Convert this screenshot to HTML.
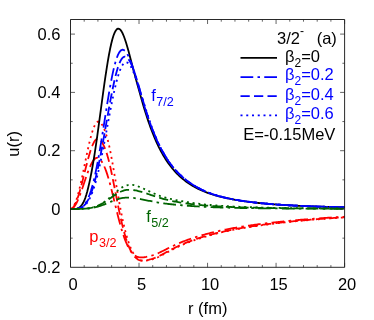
<!DOCTYPE html>
<html><head><meta charset="utf-8"><title>u(r)</title>
<style>html,body{margin:0;padding:0;background:#fff;}body{width:374px;height:320px;overflow:hidden;position:relative;font-family:"Liberation Sans",sans-serif;}</style></head>
<body>
<svg width="374" height="320" viewBox="0 0 374 320" style="position:absolute;left:0;top:0;will-change:transform">
<rect width="374" height="320" fill="#fff"/>
<clipPath id="c"><rect x="70.5" y="19.5" width="274.1" height="247.8"/></clipPath>
<g clip-path="url(#c)" fill="none" stroke-width="1.8" stroke-linejoin="round">
<path d="M70.50,209.00 L71.68,208.76 L72.85,208.05 L74.03,206.88 L75.20,205.26 L76.38,203.24 L77.56,200.84 L78.73,198.12 L79.91,195.11 L81.08,191.88 L82.26,188.49 L83.44,184.99 L84.61,181.46 L85.79,177.96 L86.96,174.55 L88.14,171.31 L89.31,168.29 L90.49,165.55 L91.67,163.16 L92.84,161.16 L94.02,159.59 L95.19,158.49 L96.37,157.88 L97.55,157.80 L98.73,158.25 L99.96,159.23 L101.21,160.74 L102.49,162.76 L103.77,165.27 L105.06,168.24 L106.33,171.63 L107.58,175.39 L108.81,179.47 L109.99,183.82 L111.17,188.37 L112.34,193.08 L113.52,197.87 L114.69,202.69 L115.87,207.47 L117.05,212.27 L118.22,216.99 L119.40,221.52 L120.57,225.83 L121.75,229.89 L122.93,233.67 L124.10,237.16 L125.28,240.34 L126.45,243.21 L127.63,245.77 L128.81,248.03 L129.98,249.99 L131.16,251.68 L132.33,253.11 L133.51,254.29 L134.68,255.24 L135.80,256.00 L136.86,256.56 L137.88,256.96 L138.87,257.22 L139.85,257.35 L140.84,257.41 L141.84,257.40 L142.87,257.34 L143.94,257.24 L145.08,257.08 L146.26,256.89 L147.45,256.66 L148.65,256.39 L149.87,256.09 L151.09,255.75 L152.31,255.39 L153.54,254.99 L154.78,254.55 L156.01,254.09 L157.24,253.59 L158.48,253.05 L159.71,252.48 L160.93,251.89 L162.15,251.29 L163.36,250.70 L164.56,250.10 L165.75,249.51 L166.93,248.91 L168.10,248.32 L169.28,247.74 L170.45,247.16 L171.63,246.59 L172.81,246.03 L173.98,245.48 L175.16,244.93 L176.33,244.40 L177.51,243.87 L178.69,243.36 L179.86,242.86 L181.04,242.37 L182.21,241.89 L183.39,241.43 L184.57,240.97 L185.74,240.53 L186.92,240.10 L188.09,239.68 L189.27,239.26 L190.45,238.85 L191.62,238.45 L192.80,238.06 L193.97,237.68 L195.15,237.30 L196.33,236.92 L197.50,236.56 L198.68,236.20 L199.85,235.85 L201.03,235.50 L202.20,235.16 L203.38,234.83 L204.56,234.50 L205.73,234.18 L206.91,233.87 L208.08,233.56 L209.26,233.25 L210.44,232.95 L211.61,232.66 L212.79,232.37 L213.96,232.09 L215.14,231.81 L216.32,231.54 L217.49,231.27 L218.67,231.01 L219.84,230.75 L221.02,230.50 L222.20,230.25 L223.37,230.00 L224.55,229.76 L225.72,229.53 L226.90,229.30 L228.08,229.07 L229.25,228.85 L230.43,228.63 L231.60,228.41 L232.78,228.20 L233.96,227.99 L235.13,227.79 L236.31,227.59 L237.48,227.39 L238.66,227.20 L239.83,227.00 L241.01,226.81 L242.19,226.63 L243.36,226.44 L244.54,226.26 L245.71,226.08 L246.89,225.91 L248.07,225.73 L249.24,225.56 L250.42,225.39 L251.59,225.22 L252.77,225.06 L253.95,224.89 L255.12,224.73 L256.30,224.57 L257.47,224.41 L258.65,224.26 L259.83,224.11 L261.00,223.96 L262.18,223.81 L263.35,223.66 L264.53,223.51 L265.71,223.37 L266.88,223.23 L268.06,223.09 L269.23,222.95 L270.41,222.81 L271.59,222.68 L272.76,222.54 L273.94,222.41 L275.11,222.28 L276.29,222.15 L277.46,222.03 L278.64,221.90 L279.82,221.78 L280.99,221.65 L282.17,221.53 L283.34,221.41 L284.52,221.30 L285.70,221.18 L286.87,221.06 L288.05,220.95 L289.22,220.84 L290.40,220.72 L291.58,220.61 L292.75,220.50 L293.93,220.40 L295.10,220.29 L296.28,220.18 L297.46,220.08 L298.63,219.98 L299.81,219.87 L300.98,219.77 L302.16,219.67 L303.34,219.58 L304.51,219.48 L305.69,219.38 L306.86,219.29 L308.04,219.19 L309.22,219.10 L310.39,219.01 L311.57,218.91 L312.74,218.82 L313.92,218.73 L315.09,218.65 L316.27,218.56 L317.45,218.47 L318.62,218.39 L319.80,218.30 L320.97,218.22 L322.15,218.13 L323.33,218.05 L324.50,217.97 L325.68,217.89 L326.85,217.81 L328.03,217.73 L329.21,217.65 L330.38,217.58 L331.56,217.50 L332.73,217.43 L333.91,217.35 L335.09,217.28 L336.26,217.20 L337.44,217.13 L338.61,217.06 L339.79,216.99 L340.97,216.92 L342.14,216.85 L343.32,216.78 L344.49,216.71 L345.67,216.64 L346.84,216.58" stroke="#ff0000" stroke-dasharray="12.75 4.25 2.5 4.25"/>
<path d="M70.50,209.00 L71.68,208.69 L72.85,207.75 L74.03,206.21 L75.20,204.09 L76.38,201.43 L77.56,198.27 L78.73,194.68 L79.91,190.70 L81.08,186.42 L82.26,181.91 L83.44,177.25 L84.61,172.52 L85.79,167.80 L86.96,163.19 L88.14,158.77 L89.31,154.61 L90.49,150.80 L91.67,147.40 L92.84,144.49 L94.02,142.12 L95.19,140.35 L96.37,139.20 L97.55,138.71 L98.74,138.90 L100.02,139.77 L101.35,141.33 L102.72,143.54 L104.12,146.40 L105.51,149.86 L106.88,153.87 L108.21,158.38 L109.48,163.33 L110.68,168.65 L111.85,174.26 L113.03,180.08 L114.20,186.05 L115.38,192.08 L116.56,198.10 L117.73,204.04 L118.91,209.82 L120.08,215.35 L121.26,220.63 L122.44,225.62 L123.61,230.28 L124.79,234.59 L125.96,238.54 L127.14,242.11 L128.32,245.31 L129.49,248.14 L130.67,250.62 L131.84,252.76 L133.02,254.58 L134.20,256.11 L135.36,257.36 L136.45,258.36 L137.45,259.13 L138.39,259.71 L139.30,260.10 L140.18,260.35 L141.07,260.50 L141.98,260.58 L142.94,260.58 L143.96,260.52 L145.08,260.41 L146.26,260.25 L147.45,260.04 L148.65,259.79 L149.87,259.49 L151.09,259.16 L152.31,258.79 L153.54,258.38 L154.78,257.93 L156.01,257.44 L157.24,256.91 L158.48,256.34 L159.71,255.73 L160.93,255.10 L162.15,254.46 L163.36,253.82 L164.56,253.18 L165.75,252.54 L166.93,251.90 L168.10,251.26 L169.28,250.63 L170.45,250.01 L171.63,249.39 L172.81,248.78 L173.98,248.18 L175.16,247.60 L176.33,247.02 L177.51,246.45 L178.69,245.90 L179.86,245.36 L181.04,244.83 L182.21,244.31 L183.39,243.81 L184.57,243.32 L185.74,242.85 L186.92,242.38 L188.09,241.93 L189.27,241.48 L190.45,241.04 L191.62,240.61 L192.80,240.19 L193.97,239.77 L195.15,239.36 L196.33,238.96 L197.50,238.57 L198.68,238.18 L199.85,237.80 L201.03,237.43 L202.20,237.07 L203.38,236.71 L204.56,236.35 L205.73,236.01 L206.91,235.67 L208.08,235.34 L209.26,235.01 L210.44,234.69 L211.61,234.37 L212.79,234.06 L213.96,233.76 L215.14,233.46 L216.32,233.17 L217.49,232.88 L218.67,232.60 L219.84,232.32 L221.02,232.05 L222.20,231.78 L223.37,231.52 L224.55,231.26 L225.72,231.00 L226.90,230.76 L228.08,230.51 L229.25,230.27 L230.43,230.04 L231.60,229.81 L232.78,229.58 L233.96,229.36 L235.13,229.14 L236.31,228.92 L237.48,228.71 L238.66,228.50 L239.83,228.30 L241.01,228.09 L242.19,227.89 L243.36,227.70 L244.54,227.50 L245.71,227.31 L246.89,227.12 L248.07,226.93 L249.24,226.75 L250.42,226.57 L251.59,226.39 L252.77,226.21 L253.95,226.03 L255.12,225.86 L256.30,225.69 L257.47,225.52 L258.65,225.36 L259.83,225.19 L261.00,225.03 L262.18,224.87 L263.35,224.71 L264.53,224.56 L265.71,224.40 L266.88,224.25 L268.06,224.10 L269.23,223.95 L270.41,223.81 L271.59,223.66 L272.76,223.52 L273.94,223.38 L275.11,223.24 L276.29,223.10 L277.46,222.96 L278.64,222.83 L279.82,222.70 L280.99,222.56 L282.17,222.43 L283.34,222.31 L284.52,222.18 L285.70,222.05 L286.87,221.93 L288.05,221.81 L289.22,221.69 L290.40,221.57 L291.58,221.45 L292.75,221.33 L293.93,221.21 L295.10,221.10 L296.28,220.99 L297.46,220.88 L298.63,220.77 L299.81,220.66 L300.98,220.55 L302.16,220.44 L303.34,220.33 L304.51,220.23 L305.69,220.13 L306.86,220.02 L308.04,219.92 L309.22,219.82 L310.39,219.72 L311.57,219.63 L312.74,219.53 L313.92,219.43 L315.09,219.34 L316.27,219.24 L317.45,219.15 L318.62,219.06 L319.80,218.97 L320.97,218.88 L322.15,218.79 L323.33,218.70 L324.50,218.62 L325.68,218.53 L326.85,218.44 L328.03,218.36 L329.21,218.28 L330.38,218.19 L331.56,218.11 L332.73,218.03 L333.91,217.95 L335.09,217.87 L336.26,217.79 L337.44,217.71 L338.61,217.64 L339.79,217.56 L340.97,217.49 L342.14,217.41 L343.32,217.34 L344.49,217.26 L345.67,217.19 L346.84,217.12" stroke="#ff0000" stroke-dasharray="9.25 4.25"/>
<path d="M70.50,209.00 L71.68,208.63 L72.85,207.51 L74.03,205.66 L75.20,203.12 L76.38,199.93 L77.56,196.14 L78.73,191.82 L79.91,187.03 L81.08,181.87 L82.26,176.41 L83.44,170.75 L84.61,165.00 L85.79,159.24 L86.96,153.58 L88.14,148.12 L89.31,142.94 L90.49,138.16 L91.67,133.84 L92.84,130.07 L94.02,126.93 L95.19,124.46 L96.37,122.72 L97.55,121.75 L98.74,121.56 L100.02,122.18 L101.35,123.60 L102.72,125.81 L104.12,128.78 L105.51,132.46 L106.88,136.81 L108.21,141.77 L109.48,147.26 L110.68,153.21 L111.85,159.53 L113.03,166.14 L114.20,172.94 L115.38,179.85 L116.56,186.77 L117.73,193.63 L118.91,200.35 L120.08,206.86 L121.26,212.99 L122.44,218.72 L123.61,224.11 L124.79,229.12 L125.96,233.72 L127.14,237.91 L128.32,241.67 L129.49,245.01 L130.67,247.96 L131.84,250.52 L133.02,252.71 L134.20,254.56 L135.36,256.10 L136.45,257.36 L137.45,258.35 L138.39,259.12 L139.30,259.67 L140.18,260.06 L141.07,260.34 L141.98,260.52 L142.94,260.62 L143.96,260.65 L145.08,260.62 L146.26,260.53 L147.45,260.38 L148.65,260.19 L149.87,259.94 L151.09,259.66 L152.31,259.32 L153.54,258.94 L154.78,258.52 L156.01,258.05 L157.24,257.53 L158.48,256.97 L159.71,256.35 L160.93,255.72 L162.15,255.08 L163.36,254.44 L164.56,253.80 L165.75,253.16 L166.93,252.52 L168.10,251.89 L169.28,251.26 L170.45,250.64 L171.63,250.02 L172.81,249.42 L173.98,248.82 L175.16,248.24 L176.33,247.66 L177.51,247.10 L178.69,246.54 L179.86,246.00 L181.04,245.47 L182.21,244.95 L183.39,244.45 L184.57,243.96 L185.74,243.48 L186.92,243.00 L188.09,242.54 L189.27,242.09 L190.45,241.64 L191.62,241.20 L192.80,240.77 L193.97,240.35 L195.15,239.94 L196.33,239.53 L197.50,239.13 L198.68,238.74 L199.85,238.35 L201.03,237.97 L202.20,237.60 L203.38,237.23 L204.56,236.87 L205.73,236.52 L206.91,236.17 L208.08,235.83 L209.26,235.50 L210.44,235.17 L211.61,234.85 L212.79,234.53 L213.96,234.22 L215.14,233.92 L216.32,233.62 L217.49,233.32 L218.67,233.04 L219.84,232.75 L221.02,232.47 L222.20,232.20 L223.37,231.93 L224.55,231.67 L225.72,231.41 L226.90,231.16 L228.08,230.91 L229.25,230.66 L230.43,230.42 L231.60,230.19 L232.78,229.96 L233.96,229.73 L235.13,229.51 L236.31,229.29 L237.48,229.08 L238.66,228.86 L239.83,228.65 L241.01,228.45 L242.19,228.24 L243.36,228.04 L244.54,227.84 L245.71,227.65 L246.89,227.45 L248.07,227.26 L249.24,227.07 L250.42,226.89 L251.59,226.71 L252.77,226.53 L253.95,226.35 L255.12,226.17 L256.30,226.00 L257.47,225.83 L258.65,225.66 L259.83,225.49 L261.00,225.33 L262.18,225.16 L263.35,225.00 L264.53,224.84 L265.71,224.69 L266.88,224.53 L268.06,224.38 L269.23,224.23 L270.41,224.08 L271.59,223.93 L272.76,223.78 L273.94,223.64 L275.11,223.50 L276.29,223.36 L277.46,223.22 L278.64,223.08 L279.82,222.95 L280.99,222.81 L282.17,222.68 L283.34,222.55 L284.52,222.42 L285.70,222.29 L286.87,222.17 L288.05,222.04 L289.22,221.92 L290.40,221.80 L291.58,221.68 L292.75,221.56 L293.93,221.44 L295.10,221.32 L296.28,221.21 L297.46,221.09 L298.63,220.98 L299.81,220.87 L300.98,220.76 L302.16,220.65 L303.34,220.54 L304.51,220.44 L305.69,220.33 L306.86,220.23 L308.04,220.12 L309.22,220.02 L310.39,219.92 L311.57,219.82 L312.74,219.72 L313.92,219.63 L315.09,219.53 L316.27,219.43 L317.45,219.34 L318.62,219.25 L319.80,219.15 L320.97,219.06 L322.15,218.97 L323.33,218.88 L324.50,218.79 L325.68,218.70 L326.85,218.62 L328.03,218.53 L329.21,218.45 L330.38,218.36 L331.56,218.28 L332.73,218.20 L333.91,218.11 L335.09,218.03 L336.26,217.95 L337.44,217.87 L338.61,217.80 L339.79,217.72 L340.97,217.64 L342.14,217.57 L343.32,217.49 L344.49,217.42 L345.67,217.34 L346.84,217.27" stroke="#ff0000" stroke-dasharray="2 3.75"/>
<path d="M70.50,209.00 L71.57,209.00 L72.64,208.99 L73.70,208.97 L74.76,208.91 L75.82,208.79 L76.88,208.57 L77.94,208.22 L78.99,207.69 L80.05,206.94 L81.10,205.91 L82.15,204.56 L83.19,202.84 L84.22,200.71 L85.23,198.12 L86.24,195.04 L87.26,191.44 L88.30,187.29 L89.38,182.59 L90.50,177.32 L91.63,171.51 L92.77,165.17 L93.91,158.33 L95.05,151.02 L96.20,143.32 L97.35,135.27 L98.51,126.95 L99.66,118.45 L100.82,109.85 L101.98,101.25 L103.14,92.74 L104.29,84.42 L105.45,76.40 L106.61,68.77 L107.76,61.61 L108.92,55.02 L110.07,49.06 L111.22,43.80 L112.37,39.28 L113.51,35.54 L114.66,32.61 L115.81,30.49 L116.95,29.17 L118.10,28.64 L119.25,28.86 L120.40,29.78 L121.55,31.37 L122.70,33.54 L123.85,36.26 L125.01,39.44 L126.17,43.01 L127.34,46.93 L128.50,51.11 L129.67,55.51 L130.85,60.05 L132.06,64.70 L133.30,69.41 L134.56,74.14 L135.84,78.85 L137.12,83.51 L138.39,88.10 L139.66,92.60 L140.90,97.00 L142.12,101.27 L143.32,105.41 L144.52,109.42 L145.71,113.29 L146.91,117.02 L148.10,120.60 L149.29,124.04 L150.48,127.34 L151.66,130.50 L152.84,133.53 L154.01,136.43 L155.18,139.20 L156.35,141.85 L157.52,144.38 L158.68,146.80 L159.84,149.12 L161.00,151.33 L162.16,153.44 L163.32,155.45 L164.47,157.38 L165.62,159.22 L166.77,160.98 L167.93,162.66 L169.08,164.27 L170.23,165.81 L171.37,167.28 L172.52,168.69 L173.67,170.04 L174.82,171.34 L175.97,172.57 L177.13,173.76 L178.28,174.90 L179.43,175.99 L180.57,177.03 L181.71,178.04 L182.86,179.00 L184.00,179.92 L185.13,180.81 L186.27,181.67 L187.41,182.49 L188.54,183.28 L189.68,184.04 L190.82,184.77 L191.96,185.47 L193.10,186.15 L194.24,186.80 L195.38,187.43 L196.53,188.03 L197.68,188.61 L198.83,189.18 L199.99,189.72 L201.15,190.24 L202.31,190.75 L203.48,191.24 L204.66,191.71 L205.83,192.16 L207.01,192.60 L208.19,193.03 L209.36,193.44 L210.54,193.84 L211.71,194.22 L212.89,194.59 L214.07,194.95 L215.24,195.30 L216.42,195.64 L217.59,195.97 L218.77,196.28 L219.95,196.59 L221.12,196.89 L222.30,197.18 L223.47,197.46 L224.65,197.73 L225.83,197.99 L227.00,198.25 L228.18,198.49 L229.35,198.73 L230.53,198.97 L231.70,199.19 L232.88,199.41 L234.06,199.63 L235.23,199.84 L236.41,200.04 L237.58,200.23 L238.76,200.43 L239.94,200.61 L241.11,200.79 L242.29,200.97 L243.46,201.14 L244.64,201.31 L245.82,201.47 L246.99,201.62 L248.17,201.78 L249.34,201.93 L250.52,202.07 L251.70,202.21 L252.87,202.35 L254.05,202.49 L255.22,202.62 L256.40,202.75 L257.58,202.87 L258.75,202.99 L259.93,203.11 L261.10,203.23 L262.28,203.34 L263.46,203.45 L264.63,203.56 L265.81,203.66 L266.98,203.76 L268.16,203.86 L269.33,203.96 L270.51,204.06 L271.69,204.15 L272.86,204.24 L274.04,204.33 L275.21,204.41 L276.39,204.50 L277.57,204.58 L278.74,204.66 L279.92,204.74 L281.09,204.82 L282.27,204.89 L283.45,204.97 L284.62,205.04 L285.80,205.11 L286.97,205.18 L288.15,205.24 L289.33,205.31 L290.50,205.37 L291.68,205.44 L292.85,205.50 L294.03,205.56 L295.21,205.62 L296.38,205.68 L297.56,205.73 L298.73,205.79 L299.91,205.84 L301.09,205.90 L302.26,205.95 L303.44,206.00 L304.61,206.05 L305.79,206.10 L306.96,206.15 L308.14,206.19 L309.32,206.24 L310.49,206.28 L311.67,206.33 L312.84,206.37 L314.02,206.41 L315.20,206.45 L316.37,206.50 L317.55,206.54 L318.72,206.57 L319.90,206.61 L321.08,206.65 L322.25,206.69 L323.43,206.72 L324.60,206.76 L325.78,206.79 L326.96,206.83 L328.13,206.86 L329.31,206.89 L330.48,206.93 L331.66,206.96 L332.84,206.99 L334.01,207.02 L335.19,207.05 L336.36,207.08 L337.54,207.11 L338.71,207.14 L339.89,207.16 L341.07,207.19 L342.24,207.22 L343.42,207.25 L344.59,207.27 L345.77,207.30 L346.95,207.32" stroke="#000"/>
<path d="M70.50,209.00 L71.70,209.00 L72.90,209.00 L74.10,208.98 L75.30,208.93 L76.50,208.83 L77.71,208.65 L78.91,208.36 L80.10,207.93 L81.30,207.31 L82.50,206.46 L83.70,205.35 L84.90,203.94 L86.09,202.18 L87.29,200.04 L88.48,197.49 L89.67,194.50 L90.86,191.05 L92.05,187.13 L93.23,182.74 L94.42,177.87 L95.60,172.53 L96.78,166.76 L97.96,160.58 L99.13,154.04 L100.31,147.17 L101.49,140.04 L102.66,132.72 L103.84,125.27 L105.01,117.77 L106.19,110.31 L107.37,102.97 L108.54,95.82 L109.72,88.96 L110.89,82.47 L112.07,76.41 L113.24,70.87 L114.42,65.91 L115.60,61.57 L116.77,57.90 L117.95,54.90 L119.12,52.60 L120.30,50.98 L121.48,50.03 L122.65,49.73 L123.83,50.03 L125.00,50.88 L126.18,52.23 L127.36,54.05 L128.53,56.29 L129.71,58.92 L130.88,61.88 L132.06,65.13 L133.24,68.62 L134.41,72.32 L135.59,76.18 L136.76,80.16 L137.94,84.24 L139.12,88.37 L140.29,92.53 L141.48,96.65 L142.68,100.70 L143.89,104.67 L145.10,108.55 L146.32,112.33 L147.54,115.99 L148.77,119.54 L150.00,122.96 L151.23,126.26 L152.46,129.43 L153.69,132.49 L154.92,135.42 L156.14,138.22 L157.36,140.92 L158.57,143.49 L159.78,145.96 L160.97,148.32 L162.17,150.58 L163.36,152.74 L164.55,154.80 L165.75,156.77 L166.94,158.66 L168.13,160.46 L169.33,162.19 L170.52,163.84 L171.71,165.42 L172.90,166.92 L174.09,168.37 L175.28,169.75 L176.47,171.07 L177.65,172.34 L178.84,173.56 L180.02,174.72 L181.21,175.83 L182.39,176.90 L183.57,177.93 L184.75,178.91 L185.93,179.85 L187.11,180.76 L188.29,181.63 L189.46,182.47 L190.63,183.27 L191.78,184.04 L192.94,184.78 L194.08,185.50 L195.23,186.18 L196.36,186.85 L197.50,187.48 L198.63,188.10 L199.75,188.69 L200.88,189.26 L202.00,189.81 L203.12,190.34 L204.24,190.85 L205.36,191.34 L206.48,191.82 L207.60,192.27 L208.72,192.72 L209.84,193.15 L210.97,193.56 L212.10,193.96 L213.23,194.35 L214.37,194.72 L215.51,195.09 L216.65,195.44 L217.80,195.77 L218.96,196.10 L220.12,196.42 L221.29,196.73 L222.47,197.03 L223.65,197.32 L224.83,197.60 L226.01,197.87 L227.19,198.13 L228.38,198.39 L229.57,198.63 L230.75,198.87 L231.94,199.11 L233.13,199.33 L234.32,199.55 L235.51,199.77 L236.71,199.97 L237.90,200.18 L239.09,200.37 L240.28,200.56 L241.48,200.75 L242.67,200.93 L243.87,201.10 L245.06,201.27 L246.25,201.44 L247.44,201.60 L248.64,201.75 L249.83,201.91 L251.02,202.06 L252.21,202.20 L253.40,202.34 L254.59,202.48 L255.77,202.61 L256.96,202.74 L258.14,202.87 L259.33,202.99 L260.51,203.11 L261.69,203.23 L262.86,203.34 L264.04,203.46 L265.21,203.56 L266.39,203.67 L267.57,203.77 L268.74,203.87 L269.92,203.97 L271.09,204.07 L272.27,204.16 L273.45,204.25 L274.62,204.34 L275.80,204.43 L276.97,204.52 L278.15,204.60 L279.33,204.68 L280.50,204.76 L281.68,204.84 L282.85,204.91 L284.03,204.99 L285.21,205.06 L286.38,205.13 L287.56,205.20 L288.73,205.27 L289.91,205.34 L291.09,205.40 L292.26,205.46 L293.44,205.53 L294.61,205.59 L295.79,205.65 L296.96,205.70 L298.14,205.76 L299.32,205.82 L300.49,205.87 L301.67,205.92 L302.84,205.98 L304.02,206.03 L305.20,206.08 L306.37,206.13 L307.55,206.17 L308.72,206.22 L309.90,206.27 L311.08,206.31 L312.25,206.36 L313.43,206.40 L314.60,206.44 L315.78,206.48 L316.96,206.52 L318.13,206.56 L319.31,206.60 L320.48,206.64 L321.66,206.68 L322.84,206.72 L324.01,206.75 L325.19,206.79 L326.36,206.82 L327.54,206.86 L328.72,206.89 L329.89,206.92 L331.07,206.96 L332.24,206.99 L333.42,207.02 L334.59,207.05 L335.77,207.08 L336.95,207.11 L338.12,207.14 L339.30,207.16 L340.47,207.19 L341.65,207.22 L342.83,207.25 L344.00,207.27 L345.18,207.30 L346.35,207.32" stroke="#0000ff" stroke-dasharray="12.75 4.25 2.5 4.25"/>
<path d="M70.50,209.00 L71.69,209.00 L72.89,209.00 L74.09,208.98 L75.28,208.94 L76.48,208.86 L77.68,208.71 L78.88,208.46 L80.09,208.09 L81.29,207.57 L82.49,206.85 L83.70,205.90 L84.91,204.69 L86.11,203.18 L87.32,201.34 L88.53,199.14 L89.74,196.55 L90.95,193.55 L92.16,190.13 L93.37,186.28 L94.58,181.99 L95.79,177.28 L97.01,172.15 L98.22,166.63 L99.44,160.75 L100.66,154.53 L101.88,148.04 L103.11,141.33 L104.34,134.44 L105.57,127.45 L106.81,120.43 L108.04,113.45 L109.27,106.59 L110.50,99.92 L111.73,93.52 L112.95,87.45 L114.16,81.80 L115.37,76.62 L116.57,71.96 L117.78,67.87 L118.98,64.39 L120.18,61.55 L121.38,59.36 L122.58,57.81 L123.78,56.92 L124.98,56.64 L126.17,56.97 L127.37,57.86 L128.56,59.27 L129.75,61.15 L130.93,63.45 L132.11,66.12 L133.29,69.11 L134.47,72.35 L135.63,75.81 L136.78,79.44 L137.92,83.18 L139.06,87.01 L140.19,90.88 L141.31,94.76 L142.43,98.63 L143.55,102.47 L144.66,106.25 L145.78,109.95 L146.90,113.57 L148.03,117.10 L149.16,120.53 L150.30,123.84 L151.45,127.05 L152.60,130.14 L153.77,133.12 L154.96,135.98 L156.16,138.74 L157.36,141.38 L158.57,143.91 L159.78,146.34 L160.97,148.67 L162.16,150.89 L163.36,153.02 L164.55,155.06 L165.74,157.02 L166.94,158.88 L168.13,160.67 L169.32,162.38 L170.51,164.02 L171.70,165.58 L172.89,167.08 L174.08,168.52 L175.27,169.89 L176.46,171.20 L177.65,172.46 L178.84,173.67 L180.02,174.83 L181.21,175.94 L182.39,177.00 L183.57,178.02 L184.75,179.00 L185.93,179.94 L187.11,180.84 L188.29,181.71 L189.46,182.54 L190.63,183.34 L191.78,184.11 L192.94,184.85 L194.08,185.56 L195.23,186.25 L196.36,186.91 L197.50,187.54 L198.63,188.15 L199.75,188.74 L200.88,189.31 L202.00,189.86 L203.12,190.39 L204.24,190.90 L205.36,191.39 L206.48,191.86 L207.60,192.32 L208.72,192.76 L209.84,193.19 L210.97,193.60 L212.10,194.00 L213.23,194.39 L214.37,194.76 L215.51,195.12 L216.65,195.47 L217.80,195.81 L218.96,196.14 L220.12,196.45 L221.29,196.76 L222.47,197.06 L223.65,197.35 L224.83,197.63 L226.01,197.90 L227.19,198.16 L228.38,198.41 L229.57,198.66 L230.75,198.90 L231.94,199.13 L233.13,199.36 L234.32,199.58 L235.51,199.79 L236.71,200.00 L237.90,200.20 L239.09,200.39 L240.28,200.58 L241.48,200.77 L242.67,200.95 L243.87,201.12 L245.06,201.29 L246.25,201.46 L247.44,201.62 L248.64,201.77 L249.83,201.93 L251.02,202.07 L252.21,202.22 L253.40,202.36 L254.59,202.50 L255.77,202.63 L256.96,202.76 L258.14,202.88 L259.33,203.01 L260.51,203.13 L261.69,203.24 L262.86,203.36 L264.04,203.47 L265.21,203.58 L266.39,203.68 L267.57,203.79 L268.74,203.89 L269.92,203.99 L271.09,204.08 L272.27,204.18 L273.45,204.27 L274.62,204.36 L275.80,204.44 L276.97,204.53 L278.15,204.61 L279.33,204.69 L280.50,204.77 L281.68,204.85 L282.85,204.93 L284.03,205.00 L285.21,205.07 L286.38,205.14 L287.56,205.21 L288.73,205.28 L289.91,205.35 L291.09,205.41 L292.26,205.47 L293.44,205.53 L294.61,205.60 L295.79,205.65 L296.96,205.71 L298.14,205.77 L299.32,205.82 L300.49,205.88 L301.67,205.93 L302.84,205.98 L304.02,206.04 L305.20,206.08 L306.37,206.13 L307.55,206.18 L308.72,206.23 L309.90,206.27 L311.08,206.32 L312.25,206.36 L313.43,206.41 L314.60,206.45 L315.78,206.49 L316.96,206.53 L318.13,206.57 L319.31,206.61 L320.48,206.65 L321.66,206.69 L322.84,206.72 L324.01,206.76 L325.19,206.79 L326.36,206.83 L327.54,206.86 L328.72,206.90 L329.89,206.93 L331.07,206.96 L332.24,206.99 L333.42,207.02 L334.59,207.05 L335.77,207.08 L336.95,207.11 L338.12,207.14 L339.30,207.17 L340.47,207.20 L341.65,207.22 L342.83,207.25 L344.00,207.28 L345.18,207.30 L346.35,207.33" stroke="#0000ff" stroke-dasharray="9.25 4.25"/>
<path d="M70.50,209.00 L71.70,209.00 L72.90,209.00 L74.11,208.98 L75.31,208.95 L76.51,208.88 L77.71,208.75 L78.92,208.55 L80.12,208.24 L81.33,207.79 L82.53,207.18 L83.74,206.38 L84.94,205.35 L86.15,204.06 L87.35,202.48 L88.56,200.59 L89.77,198.36 L90.97,195.77 L92.18,192.80 L93.39,189.44 L94.60,185.69 L95.81,181.55 L97.01,177.01 L98.22,172.10 L99.43,166.84 L100.64,161.26 L101.85,155.38 L103.06,149.26 L104.27,142.93 L105.48,136.46 L106.70,129.91 L107.91,123.32 L109.12,116.78 L110.33,110.36 L111.55,104.11 L112.76,98.12 L113.97,92.42 L115.19,87.05 L116.40,82.08 L117.62,77.57 L118.83,73.58 L120.05,70.13 L121.27,67.28 L122.49,65.05 L123.71,63.46 L124.93,62.51 L126.15,62.20 L127.36,62.52 L128.57,63.43 L129.77,64.88 L130.96,66.82 L132.16,69.17 L133.36,71.88 L134.55,74.89 L135.74,78.13 L136.94,81.55 L138.12,85.09 L139.31,88.71 L140.49,92.36 L141.66,96.01 L142.82,99.68 L143.97,103.33 L145.11,106.95 L146.24,110.52 L147.37,114.02 L148.49,117.45 L149.61,120.78 L150.73,124.02 L151.84,127.16 L152.96,130.20 L154.09,133.13 L155.21,135.96 L156.35,138.68 L157.49,141.29 L158.63,143.81 L159.80,146.22 L160.97,148.53 L162.15,150.74 L163.33,152.87 L164.51,154.90 L165.70,156.85 L166.88,158.71 L168.07,160.50 L169.26,162.21 L170.45,163.84 L171.65,165.41 L172.84,166.91 L174.03,168.34 L175.23,169.72 L176.42,171.04 L177.61,172.30 L178.80,173.51 L180.00,174.67 L181.19,175.78 L182.38,176.85 L183.56,177.87 L184.75,178.86 L185.93,179.80 L187.11,180.71 L188.29,181.58 L189.46,182.41 L190.63,183.22 L191.78,183.99 L192.94,184.73 L194.08,185.45 L195.23,186.13 L196.36,186.80 L197.50,187.43 L198.63,188.05 L199.75,188.64 L200.88,189.21 L202.00,189.76 L203.12,190.29 L204.24,190.80 L205.36,191.30 L206.48,191.77 L207.60,192.24 L208.72,192.68 L209.84,193.11 L210.97,193.52 L212.10,193.93 L213.23,194.31 L214.37,194.69 L215.51,195.05 L216.65,195.40 L217.80,195.74 L218.96,196.07 L220.12,196.39 L221.29,196.70 L222.47,197.00 L223.65,197.29 L224.83,197.57 L226.01,197.84 L227.19,198.10 L228.38,198.36 L229.57,198.61 L230.75,198.85 L231.94,199.08 L233.13,199.31 L234.32,199.53 L235.51,199.74 L236.71,199.95 L237.90,200.15 L239.09,200.35 L240.28,200.54 L241.48,200.73 L242.67,200.91 L243.87,201.08 L245.06,201.25 L246.25,201.42 L247.44,201.58 L248.64,201.74 L249.83,201.89 L251.02,202.04 L252.21,202.18 L253.40,202.32 L254.59,202.46 L255.77,202.60 L256.96,202.73 L258.14,202.85 L259.33,202.98 L260.51,203.10 L261.69,203.22 L262.86,203.33 L264.04,203.44 L265.21,203.55 L266.39,203.66 L267.57,203.76 L268.74,203.86 L269.92,203.96 L271.09,204.06 L272.27,204.15 L273.45,204.24 L274.62,204.33 L275.80,204.42 L276.97,204.51 L278.15,204.59 L279.33,204.67 L280.50,204.75 L281.68,204.83 L282.85,204.90 L284.03,204.98 L285.21,205.05 L286.38,205.12 L287.56,205.19 L288.73,205.26 L289.91,205.33 L291.09,205.39 L292.26,205.46 L293.44,205.52 L294.61,205.58 L295.79,205.64 L296.96,205.70 L298.14,205.75 L299.32,205.81 L300.49,205.86 L301.67,205.92 L302.84,205.97 L304.02,206.02 L305.20,206.07 L306.37,206.12 L307.55,206.17 L308.72,206.21 L309.90,206.26 L311.08,206.31 L312.25,206.35 L313.43,206.39 L314.60,206.44 L315.78,206.48 L316.96,206.52 L318.13,206.56 L319.31,206.60 L320.48,206.64 L321.66,206.67 L322.84,206.71 L324.01,206.75 L325.19,206.78 L326.36,206.82 L327.54,206.85 L328.72,206.89 L329.89,206.92 L331.07,206.95 L332.24,206.98 L333.42,207.01 L334.59,207.04 L335.77,207.07 L336.95,207.10 L338.12,207.13 L339.30,207.16 L340.47,207.19 L341.65,207.21 L342.83,207.24 L344.00,207.27 L345.18,207.29 L346.35,207.32" stroke="#0000ff" stroke-dasharray="2 3.75"/>
<path d="M70.50,209.00 L71.69,209.00 L72.88,209.00 L74.08,209.00 L75.27,209.00 L76.46,208.99 L77.66,208.99 L78.85,208.97 L80.05,208.95 L81.24,208.93 L82.44,208.89 L83.63,208.84 L84.83,208.77 L86.02,208.69 L87.22,208.59 L88.41,208.47 L89.61,208.33 L90.81,208.17 L92.00,207.97 L93.20,207.76 L94.39,207.51 L95.59,207.24 L96.78,206.93 L97.97,206.60 L99.17,206.25 L100.36,205.86 L101.56,205.45 L102.75,205.02 L103.94,204.57 L105.13,204.10 L106.32,203.62 L107.51,203.13 L108.70,202.64 L109.89,202.14 L111.08,201.65 L112.27,201.16 L113.46,200.69 L114.64,200.24 L115.83,199.82 L117.01,199.42 L118.20,199.05 L119.38,198.72 L120.56,198.44 L121.74,198.19 L122.92,197.98 L124.10,197.83 L125.28,197.71 L126.45,197.64 L127.63,197.61 L128.81,197.62 L129.98,197.67 L131.16,197.74 L132.33,197.84 L133.51,197.97 L134.69,198.12 L135.86,198.29 L137.04,198.48 L138.21,198.68 L139.39,198.89 L140.57,199.11 L141.74,199.34 L142.92,199.57 L144.09,199.81 L145.27,200.04 L146.45,200.28 L147.62,200.52 L148.80,200.76 L149.97,200.99 L151.15,201.22 L152.32,201.45 L153.50,201.67 L154.68,201.89 L155.85,202.10 L157.03,202.31 L158.20,202.52 L159.38,202.71 L160.56,202.89 L161.73,203.07 L162.91,203.24 L164.08,203.40 L165.26,203.56 L166.44,203.71 L167.61,203.85 L168.79,203.99 L169.96,204.13 L171.14,204.26 L172.32,204.38 L173.49,204.50 L174.67,204.62 L175.84,204.73 L177.02,204.84 L178.20,204.95 L179.37,205.06 L180.55,205.16 L181.72,205.26 L182.90,205.36 L184.08,205.45 L185.25,205.55 L186.43,205.64 L187.60,205.73 L188.78,205.82 L189.95,205.90 L191.13,205.99 L192.31,206.07 L193.48,206.16 L194.66,206.24 L195.83,206.32 L197.01,206.40 L198.19,206.47 L199.36,206.54 L200.54,206.61 L201.71,206.68 L202.89,206.74 L204.07,206.80 L205.24,206.86 L206.42,206.92 L207.59,206.97 L208.77,207.03 L209.95,207.08 L211.12,207.13 L212.30,207.18 L213.47,207.23 L214.65,207.27 L215.83,207.31 L217.00,207.36 L218.18,207.40 L219.35,207.44 L220.53,207.48 L221.71,207.51 L222.88,207.55 L224.06,207.58 L225.23,207.62 L226.41,207.65 L227.58,207.68 L228.76,207.71 L229.94,207.74 L231.11,207.77 L232.29,207.80 L233.46,207.83 L234.64,207.86 L235.82,207.88 L236.99,207.91 L238.17,207.93 L239.34,207.95 L240.52,207.98 L241.70,208.00 L242.87,208.02 L244.05,208.04 L245.22,208.06 L246.40,208.08 L247.58,208.10 L248.75,208.12 L249.93,208.14 L251.10,208.16 L252.28,208.18 L253.46,208.19 L254.63,208.21 L255.81,208.23 L256.98,208.24 L258.16,208.26 L259.34,208.27 L260.51,208.29 L261.69,208.30 L262.86,208.31 L264.04,208.33 L265.21,208.34 L266.39,208.35 L267.57,208.37 L268.74,208.38 L269.92,208.39 L271.09,208.40 L272.27,208.41 L273.45,208.43 L274.62,208.44 L275.80,208.45 L276.97,208.46 L278.15,208.47 L279.33,208.48 L280.50,208.49 L281.68,208.50 L282.85,208.51 L284.03,208.51 L285.21,208.52 L286.38,208.53 L287.56,208.54 L288.73,208.55 L289.91,208.56 L291.09,208.56 L292.26,208.57 L293.44,208.58 L294.61,208.59 L295.79,208.59 L296.96,208.60 L298.14,208.61 L299.32,208.61 L300.49,208.62 L301.67,208.63 L302.84,208.63 L304.02,208.64 L305.20,208.65 L306.37,208.65 L307.55,208.66 L308.72,208.66 L309.90,208.67 L311.08,208.67 L312.25,208.68 L313.43,208.68 L314.60,208.69 L315.78,208.70 L316.96,208.70 L318.13,208.70 L319.31,208.71 L320.48,208.71 L321.66,208.72 L322.84,208.72 L324.01,208.73 L325.19,208.73 L326.36,208.74 L327.54,208.74 L328.72,208.74 L329.89,208.75 L331.07,208.75 L332.24,208.76 L333.42,208.76 L334.59,208.76 L335.77,208.77 L336.95,208.77 L338.12,208.77 L339.30,208.78 L340.47,208.78 L341.65,208.78 L342.83,208.79 L344.00,208.79 L345.18,208.79 L346.35,208.80" stroke="#006400" stroke-dasharray="12.75 4.25 2.5 4.25"/>
<path d="M70.50,209.00 L71.69,209.00 L72.88,209.00 L74.08,209.00 L75.27,209.00 L76.46,208.99 L77.66,208.98 L78.85,208.97 L80.05,208.94 L81.24,208.91 L82.44,208.86 L83.63,208.79 L84.83,208.71 L86.02,208.60 L87.22,208.46 L88.41,208.30 L89.61,208.11 L90.81,207.88 L92.00,207.61 L93.20,207.30 L94.39,206.95 L95.59,206.55 L96.78,206.11 L97.97,205.63 L99.17,205.09 L100.36,204.52 L101.56,203.89 L102.75,203.23 L103.94,202.52 L105.13,201.78 L106.32,201.00 L107.51,200.20 L108.70,199.38 L109.89,198.55 L111.08,197.70 L112.27,196.86 L113.46,196.04 L114.64,195.23 L115.83,194.45 L117.01,193.71 L118.20,193.01 L119.38,192.37 L120.56,191.79 L121.74,191.28 L122.92,190.84 L124.10,190.47 L125.28,190.18 L126.45,189.97 L127.63,189.84 L128.81,189.78 L129.98,189.78 L131.16,189.83 L132.33,189.93 L133.51,190.08 L134.69,190.26 L135.86,190.48 L137.04,190.73 L138.21,191.01 L139.39,191.31 L140.57,191.63 L141.74,191.98 L142.92,192.33 L144.09,192.70 L145.27,193.08 L146.45,193.46 L147.62,193.85 L148.80,194.24 L149.97,194.64 L151.15,195.03 L152.32,195.43 L153.50,195.82 L154.68,196.21 L155.85,196.60 L157.03,196.98 L158.20,197.36 L159.38,197.73 L160.56,198.08 L161.73,198.43 L162.91,198.76 L164.08,199.08 L165.26,199.39 L166.44,199.68 L167.61,199.97 L168.79,200.25 L169.96,200.52 L171.14,200.78 L172.32,201.02 L173.49,201.27 L174.67,201.50 L175.84,201.72 L177.02,201.94 L178.20,202.15 L179.37,202.35 L180.55,202.55 L181.72,202.74 L182.90,202.92 L184.08,203.10 L185.25,203.27 L186.43,203.44 L187.60,203.60 L188.78,203.75 L189.95,203.91 L191.13,204.05 L192.31,204.20 L193.48,204.34 L194.66,204.47 L195.83,204.60 L197.01,204.73 L198.19,204.85 L199.36,204.97 L200.54,205.08 L201.71,205.19 L202.89,205.29 L204.07,205.39 L205.24,205.49 L206.42,205.59 L207.59,205.68 L208.77,205.77 L209.95,205.85 L211.12,205.93 L212.30,206.01 L213.47,206.09 L214.65,206.16 L215.83,206.24 L217.00,206.31 L218.18,206.37 L219.35,206.44 L220.53,206.50 L221.71,206.56 L222.88,206.62 L224.06,206.68 L225.23,206.73 L226.41,206.79 L227.58,206.84 L228.76,206.89 L229.94,206.94 L231.11,206.99 L232.29,207.03 L233.46,207.08 L234.64,207.12 L235.82,207.17 L236.99,207.21 L238.17,207.25 L239.34,207.29 L240.52,207.32 L241.70,207.36 L242.87,207.40 L244.05,207.43 L245.22,207.46 L246.40,207.50 L247.58,207.53 L248.75,207.56 L249.93,207.59 L251.10,207.62 L252.28,207.65 L253.46,207.68 L254.63,207.70 L255.81,207.73 L256.98,207.76 L258.16,207.78 L259.34,207.81 L260.51,207.83 L261.69,207.85 L262.86,207.88 L264.04,207.90 L265.21,207.92 L266.39,207.94 L267.57,207.96 L268.74,207.98 L269.92,208.00 L271.09,208.02 L272.27,208.04 L273.45,208.06 L274.62,208.07 L275.80,208.09 L276.97,208.11 L278.15,208.13 L279.33,208.14 L280.50,208.16 L281.68,208.17 L282.85,208.19 L284.03,208.20 L285.21,208.22 L286.38,208.23 L287.56,208.25 L288.73,208.26 L289.91,208.27 L291.09,208.28 L292.26,208.30 L293.44,208.31 L294.61,208.32 L295.79,208.33 L296.96,208.35 L298.14,208.36 L299.32,208.37 L300.49,208.38 L301.67,208.39 L302.84,208.40 L304.02,208.41 L305.20,208.42 L306.37,208.43 L307.55,208.44 L308.72,208.45 L309.90,208.46 L311.08,208.47 L312.25,208.47 L313.43,208.48 L314.60,208.49 L315.78,208.50 L316.96,208.51 L318.13,208.52 L319.31,208.52 L320.48,208.53 L321.66,208.54 L322.84,208.55 L324.01,208.55 L325.19,208.56 L326.36,208.57 L327.54,208.57 L328.72,208.58 L329.89,208.59 L331.07,208.59 L332.24,208.60 L333.42,208.61 L334.59,208.61 L335.77,208.62 L336.95,208.62 L338.12,208.63 L339.30,208.64 L340.47,208.64 L341.65,208.65 L342.83,208.65 L344.00,208.66 L345.18,208.66 L346.35,208.67" stroke="#006400" stroke-dasharray="9.25 4.25"/>
<path d="M70.50,209.00 L71.70,209.00 L72.90,209.00 L74.11,209.00 L75.31,209.00 L76.51,208.99 L77.72,208.98 L78.93,208.97 L80.13,208.95 L81.34,208.92 L82.54,208.87 L83.75,208.81 L84.96,208.73 L86.16,208.63 L87.37,208.50 L88.58,208.35 L89.79,208.16 L90.99,207.93 L92.20,207.66 L93.41,207.34 L94.61,206.98 L95.82,206.56 L97.03,206.09 L98.23,205.57 L99.44,204.98 L100.64,204.34 L101.84,203.63 L103.05,202.87 L104.25,202.05 L105.45,201.17 L106.65,200.24 L107.85,199.27 L109.05,198.25 L110.25,197.20 L111.44,196.13 L112.64,195.05 L113.83,193.97 L115.02,192.89 L116.22,191.84 L117.41,190.83 L118.59,189.86 L119.78,188.96 L120.97,188.12 L122.15,187.37 L123.33,186.70 L124.51,186.14 L125.69,185.67 L126.87,185.30 L128.04,185.04 L129.22,184.88 L130.39,184.82 L131.57,184.85 L132.75,184.96 L133.92,185.15 L135.10,185.41 L136.27,185.74 L137.45,186.12 L138.62,186.54 L139.80,187.00 L140.98,187.50 L142.15,188.01 L143.33,188.55 L144.50,189.10 L145.68,189.65 L146.86,190.21 L148.03,190.77 L149.21,191.32 L150.38,191.87 L151.56,192.41 L152.74,192.93 L153.91,193.45 L155.09,193.95 L156.26,194.44 L157.44,194.92 L158.62,195.37 L159.79,195.81 L160.97,196.22 L162.14,196.61 L163.32,196.99 L164.50,197.34 L165.67,197.68 L166.85,198.00 L168.02,198.31 L169.20,198.60 L170.38,198.89 L171.55,199.16 L172.73,199.42 L173.90,199.67 L175.08,199.91 L176.25,200.15 L177.43,200.38 L178.61,200.60 L179.78,200.82 L180.96,201.03 L182.13,201.23 L183.31,201.43 L184.49,201.63 L185.66,201.82 L186.84,202.01 L188.01,202.19 L189.19,202.38 L190.37,202.56 L191.54,202.73 L192.72,202.91 L193.89,203.08 L195.07,203.25 L196.25,203.42 L197.42,203.58 L198.60,203.73 L199.77,203.88 L200.95,204.02 L202.13,204.16 L203.30,204.29 L204.48,204.42 L205.65,204.55 L206.83,204.67 L208.00,204.78 L209.18,204.89 L210.36,205.00 L211.53,205.11 L212.71,205.21 L213.88,205.30 L215.06,205.40 L216.24,205.49 L217.41,205.58 L218.59,205.66 L219.76,205.75 L220.94,205.83 L222.12,205.90 L223.29,205.98 L224.47,206.05 L225.64,206.12 L226.82,206.19 L228.00,206.26 L229.17,206.32 L230.35,206.39 L231.52,206.45 L232.70,206.50 L233.88,206.56 L235.05,206.62 L236.23,206.67 L237.40,206.72 L238.58,206.77 L239.76,206.82 L240.93,206.87 L242.11,206.92 L243.28,206.96 L244.46,207.01 L245.63,207.05 L246.81,207.09 L247.99,207.13 L249.16,207.17 L250.34,207.21 L251.51,207.25 L252.69,207.28 L253.87,207.32 L255.04,207.35 L256.22,207.39 L257.39,207.42 L258.57,207.45 L259.75,207.48 L260.92,207.51 L262.10,207.54 L263.27,207.57 L264.45,207.60 L265.63,207.63 L266.80,207.66 L267.98,207.68 L269.15,207.71 L270.33,207.73 L271.51,207.76 L272.68,207.78 L273.86,207.80 L275.03,207.83 L276.21,207.85 L277.39,207.87 L278.56,207.89 L279.74,207.91 L280.91,207.93 L282.09,207.95 L283.26,207.97 L284.44,207.99 L285.62,208.01 L286.79,208.02 L287.97,208.04 L289.14,208.06 L290.32,208.08 L291.50,208.09 L292.67,208.11 L293.85,208.12 L295.02,208.14 L296.20,208.15 L297.38,208.17 L298.55,208.18 L299.73,208.20 L300.90,208.21 L302.08,208.22 L303.26,208.24 L304.43,208.25 L305.61,208.26 L306.78,208.28 L307.96,208.29 L309.14,208.30 L310.31,208.31 L311.49,208.32 L312.66,208.33 L313.84,208.34 L315.02,208.35 L316.19,208.37 L317.37,208.38 L318.54,208.39 L319.72,208.40 L320.89,208.41 L322.07,208.41 L323.25,208.42 L324.42,208.43 L325.60,208.44 L326.77,208.45 L327.95,208.46 L329.13,208.47 L330.30,208.48 L331.48,208.48 L332.65,208.49 L333.83,208.50 L335.01,208.51 L336.18,208.52 L337.36,208.52 L338.53,208.53 L339.71,208.54 L340.89,208.54 L342.06,208.55 L343.24,208.56 L344.41,208.56 L345.59,208.57 L346.77,208.58" stroke="#006400" stroke-dasharray="2 3.75"/>
</g>
<path d="M70.5,19.5 H344.6 V267.3 H70.5 Z" fill="none" stroke="#111" stroke-width="0.9"/>
<path d="M70.50,267.3 v-4.5 M70.50,19.5 v4.5 M84.20,267.3 v-2.2 M84.20,19.5 v2.2 M97.91,267.3 v-2.2 M97.91,19.5 v2.2 M111.62,267.3 v-2.2 M111.62,19.5 v2.2 M125.32,267.3 v-2.2 M125.32,19.5 v2.2 M139.03,267.3 v-4.5 M139.03,19.5 v4.5 M152.73,267.3 v-2.2 M152.73,19.5 v2.2 M166.44,267.3 v-2.2 M166.44,19.5 v2.2 M180.14,267.3 v-2.2 M180.14,19.5 v2.2 M193.84,267.3 v-2.2 M193.84,19.5 v2.2 M207.55,267.3 v-4.5 M207.55,19.5 v4.5 M221.26,267.3 v-2.2 M221.26,19.5 v2.2 M234.96,267.3 v-2.2 M234.96,19.5 v2.2 M248.67,267.3 v-2.2 M248.67,19.5 v2.2 M262.37,267.3 v-2.2 M262.37,19.5 v2.2 M276.07,267.3 v-4.5 M276.07,19.5 v4.5 M289.78,267.3 v-2.2 M289.78,19.5 v2.2 M303.49,267.3 v-2.2 M303.49,19.5 v2.2 M317.19,267.3 v-2.2 M317.19,19.5 v2.2 M330.90,267.3 v-2.2 M330.90,19.5 v2.2 M344.60,267.3 v-4.5 M344.60,19.5 v4.5 M70.5,238.15 h2.2 M344.6,238.15 h-2.2 M70.5,209.00 h4.5 M344.6,209.00 h-4.5 M70.5,179.85 h2.2 M344.6,179.85 h-2.2 M70.5,150.70 h4.5 M344.6,150.70 h-4.5 M70.5,121.55 h2.2 M344.6,121.55 h-2.2 M70.5,92.40 h4.5 M344.6,92.40 h-4.5 M70.5,63.25 h2.2 M344.6,63.25 h-2.2 M70.5,34.10 h4.5 M344.6,34.10 h-4.5" fill="none" stroke="#222" stroke-width="0.7"/>
<path d="M240.5,57.9 H277" stroke="#000" stroke-width="1.8" fill="none"/>
<path d="M240.5,77.1 H277" stroke="#0000ff" stroke-width="1.8" fill="none" stroke-dasharray="12.75 4.25 2.5 4.25"/>
<path d="M240.5,96.1 H277" stroke="#0000ff" stroke-width="1.8" fill="none" stroke-dasharray="9.25 4.25"/>
<path d="M240.5,115.4 H277" stroke="#0000ff" stroke-width="1.8" fill="none" stroke-dasharray="2 3.75"/>
<g font-family="Liberation Sans, sans-serif" font-size="16.5" fill="#000">
<text x="60.5" y="39.6" text-anchor="end">0.6</text>
<text x="60.5" y="97.9" text-anchor="end">0.4</text>
<text x="60.5" y="156.2" text-anchor="end">0.2</text>
<text x="60.5" y="214.5" text-anchor="end">0</text>
<text x="60.5" y="272.8" text-anchor="end">-0.2</text>
<text x="73.0" y="289.6" text-anchor="middle">0</text>
<text x="141.5" y="289.6" text-anchor="middle">5</text>
<text x="210.1" y="289.6" text-anchor="middle">10</text>
<text x="278.6" y="289.6" text-anchor="middle">15</text>
<text x="347.1" y="289.6" text-anchor="middle">20</text>
<text x="207.7" y="313.9" text-anchor="middle">r (fm)</text>
<text transform="translate(18.5,143.9) rotate(-90)" text-anchor="middle">u(r)</text>
<text x="277" y="43.7" xml:space="preserve">3/2<tspan font-size="12" dy="-9">-</tspan><tspan dy="9" dx="-1">   (a)</tspan></text>
<text x="285" y="61.6" fill="#000">β<tspan font-size="12" dy="5">2</tspan><tspan dy="-5">=0</tspan></text>
<text x="285" y="80.0" fill="#0000ff">β<tspan font-size="12" dy="5">2</tspan><tspan dy="-5">=0.2</tspan></text>
<text x="285" y="99.6" fill="#0000ff">β<tspan font-size="12" dy="5">2</tspan><tspan dy="-5">=0.4</tspan></text>
<text x="285" y="119.3" fill="#0000ff">β<tspan font-size="12" dy="5">2</tspan><tspan dy="-5">=0.6</tspan></text>
<text x="335.4" y="139.8" text-anchor="end">E=-0.15MeV</text>
<text x="151.3" y="100.7" fill="#0000ff">f<tspan font-size="12.6" dy="5.7" dx="0.4">7/2</tspan></text>
<text x="146.3" y="222.4" fill="#006400">f<tspan font-size="12.6" dy="5" dx="0.4">5/2</tspan></text>
<text x="89.3" y="242" fill="#ff0000">p<tspan font-size="12.6" dy="5" dx="0.4">3/2</tspan></text>
</g>
</svg>
</body></html>
